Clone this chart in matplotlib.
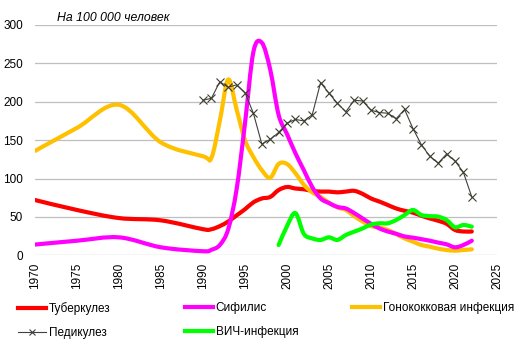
import numpy as np
import matplotlib
matplotlib.use("Agg")
import matplotlib.pyplot as plt
from matplotlib.path import Path
from matplotlib.patches import PathPatch
from matplotlib.lines import Line2D

plt.rcParams['font.family'] = ['Liberation Sans', 'DejaVu Sans']

# годы: до 1990 раз в 5 лет, потом ежегодно
years_early = [1970, 1975, 1980, 1985]
years_late = list(range(1990, 2023))
years_all = years_early + years_late

tb = [72, 59, 48.5, 45.5,
      34, 34, 38, 44, 52, 60, 69, 74, 76, 85, 89, 87, 86, 84, 83, 83, 82, 83,
      84, 80, 74, 70, 65.5, 61, 58, 55.5, 51.6, 48, 45, 41, 33, 31, 31]
syph = [14, 19, 23.4, 10.4,
        5.3, 7.2, 13.4, 34, 86, 172, 265, 277, 242, 183, 158, 133, 111, 89, 74,
        68, 63, 61, 55, 48, 41, 35, 31, 28, 24.5, 23, 21, 19, 16.5, 14.3, 10.4,
        13.4, 19]
gon = [136, 166, 196, 147,
       129, 127, 175, 229, 190, 150, 128, 111, 101, 119, 119, 107, 92, 82, 76,
       68.5, 62.5, 59, 51, 44, 38, 36.5, 33, 27.7, 22, 17.7, 13.4, 11.2, 8.6,
       6.9, 6, 6.9, 7.8]

ped_years = list(range(1990, 2023))
ped = [202, 204.5, 226, 219, 222, 212, 185, 145, 151, 160, 172, 177, 175, 183,
       225, 211, 198, 187, 202, 201, 189, 186, 185, 178, 190, 165, 144, 129,
       120, 132, 123, 108, 76]

hiv_years = list(range(1999, 2023))
hiv = [13.4, 38, 55, 28, 22, 20, 23.4, 20, 26.4, 30.8, 35, 40, 41.7, 41.7, 46,
       52.5, 59, 52.5, 51, 50.3, 46, 36.5, 39.5, 37.3]

labels = ['Туберкулез', 'Сифилис', 'Гонококковая инфекция', 'Педикулез', 'ВИЧ-инфекция']
colors = ['#FF0000', '#FF00FF', '#FFC000', '#404040', '#00FF00']


def smooth_path(x, y):
    # сглаживание как в Excel: кубические кривые Безье через точки
    pts = np.column_stack([x, y]).astype(float)
    n = len(pts)
    verts = [pts[0]]
    codes = [Path.MOVETO]
    for i in range(n - 1):
        p0 = pts[i - 1] if i > 0 else pts[i]
        p1 = pts[i]
        p2 = pts[i + 1]
        p3 = pts[i + 2] if i + 2 < n else pts[i + 1]
        verts += [p1 + (p2 - p0) / 6, p2 - (p3 - p1) / 6, p2]
        codes += [Path.CURVE4] * 3
    return Path(verts, codes)


def add_smooth(ax, x, y, color, z):
    patch = PathPatch(smooth_path(x, y), fill=False, edgecolor=color, lw=3,
                      capstyle='round', joinstyle='round', zorder=z)
    ax.add_patch(patch)


fig = plt.figure(figsize=(5.2, 3.56), dpi=100)
ax = fig.add_axes([35 / 520, 1 - 255.3 / 356, 462 / 520, 230.3 / 356])

add_smooth(ax, years_all, tb, colors[0], 3)
add_smooth(ax, years_all, gon, colors[2], 4)
add_smooth(ax, years_all, syph, colors[1], 5)
ax.plot(ped_years, ped, color=colors[3], lw=0.8, marker='x', markersize=6,
        markeredgewidth=0.8, markeredgecolor='#3d3d2d', zorder=6)
add_smooth(ax, hiv_years, hiv, colors[4], 7)

ax.set_xlim(1970, 2025)
ax.set_ylim(0, 300)
ax.set_xticks(range(1970, 2026, 5))
ax.set_yticks(range(0, 301, 50))
ax.tick_params(axis='x', labelrotation=90, length=0, pad=5.5, labelsize=8.5)
ax.tick_params(axis='y', length=0, pad=8.5, labelsize=8.5)
ax.grid(axis='y', color='#BFBFBF', lw=0.9)
ax.set_axisbelow(True)
for s in ax.spines.values():
    s.set_visible(False)

fig.text(57 / 520, 1 - 18 / 356, 'На 100 000 человек', fontsize=8.8,
         style='italic', va='center', ha='left')

# легенда: три колонки фиксированной ширины, как в Excel
h = [Line2D([], [], color=colors[0], lw=3),
     Line2D([], [], color=colors[1], lw=3),
     Line2D([], [], color=colors[2], lw=3),
     Line2D([], [], color=colors[3], lw=0.8, marker='x', markersize=5,
            markeredgewidth=0.8),
     Line2D([], [], color=colors[4], lw=3)]
groups = [([h[0], h[3]], [labels[0], labels[3]], 18),
          ([h[1], h[4]], [labels[1], labels[4]], 185),
          ([h[2]], [labels[2]], 352)]
for hh, ll, xpx in groups:
    leg = fig.legend(hh, ll, loc='upper left',
                     bbox_to_anchor=(xpx / 520, 1 - 302 / 356),
                     frameon=False, fontsize=8.5, handlelength=2.4,
                     handletextpad=0.2, borderpad=0, borderaxespad=0,
                     labelspacing=1.0)

fig.savefig('out.png', dpi=100)
